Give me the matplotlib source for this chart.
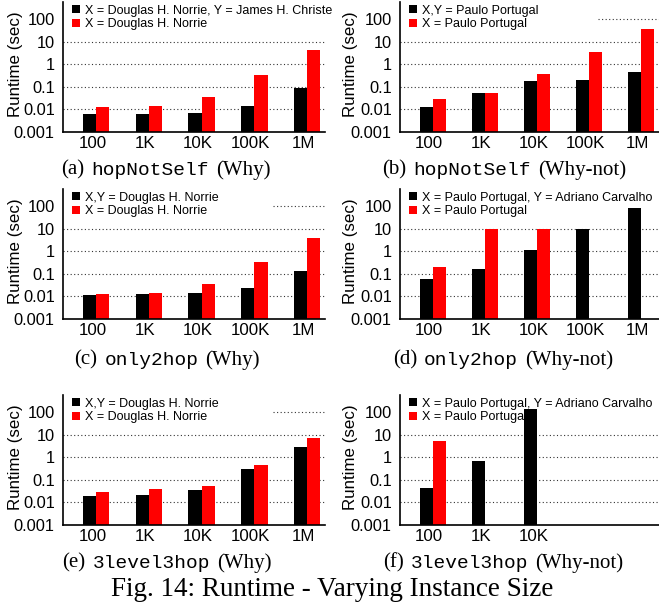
import numpy as np
import matplotlib
matplotlib.use("Agg")
import matplotlib.pyplot as plt
from matplotlib.patches import Patch
from matplotlib.offsetbox import TextArea, HPacker, AnnotationBbox

sizes = ["100", "1K", "10K", "100K", "1M"]
sizes_f = ["100", "1K", "10K"]

# (a) hopNotSelf (Why)
a_black = [0.0063, 0.0063, 0.0069, 0.014, 0.091]
a_red = [0.0132, 0.0141, 0.036, 0.33, 4.2]
# (b) hopNotSelf (Why-not)
b_black = [0.0132, 0.055, 0.186, 0.20, 0.465]
b_red = [0.029, 0.055, 0.37, 3.46, 36.0]
# (c) only2hop (Why)
c_black = [0.0115, 0.0127, 0.014, 0.023, 0.13]
c_red = [0.0127, 0.014, 0.035, 0.34, 3.7]
# (d) only2hop (Why-not)
d_black = [0.058, 0.16, 1.1, 9.5, 79.0]
d_red = [0.196, 9.7, 9.5, np.nan, np.nan]
# (e) 3level3hop (Why)
e_black = [0.019, 0.021, 0.035, 0.295, 2.75]
e_red = [0.029, 0.039, 0.053, 0.44, 6.9]
# (f) 3level3hop (Why-not)
f_black = [0.043, 0.66, 130.0]
f_red = [5.1, np.nan, np.nan]

leg_norrie_pair = "X = Douglas H. Norrie, Y = James H. Christe"
leg_norrie_xy = "X,Y = Douglas H. Norrie"
leg_norrie = "X = Douglas H. Norrie"
leg_paulo_xy = "X,Y = Paulo Portugal"
leg_paulo_pair = "X = Paulo Portugal, Y = Adriano Carvalho"
leg_paulo = "X = Paulo Portugal"

yticks = [0.001, 0.01, 0.1, 1, 10, 100]
ytick_labels = ["0.001", "0.01", "0.1", "1", "10", "100"]

W, H = 659, 609
SANS = "Liberation Sans"
SERIF = "Liberation Serif"
MONO = "Liberation Mono"

fig = plt.figure(figsize=(W / 100, H / 100), dpi=100)

# tag, query, mode, categories, series, legend labels,
# axes x0 / bottom / width (px), caption centre (px), start of the 100 gridline
panels = [
    ("(a)", "hopNotSelf", "(Why)", sizes, a_black, a_red, leg_norrie_pair, leg_norrie, 63, 132, 262, 166, 170, None),
    ("(b)", "hopNotSelf", "(Why-not)", sizes, b_black, b_red, leg_paulo_xy, leg_paulo, 400, 132, 259, 504, 170, 0.765),
    ("(c)", "only2hop", "(Why)", sizes, c_black, c_red, leg_norrie_xy, leg_norrie, 63, 319, 262, 167, 360, 0.80),
    ("(d)", "only2hop", "(Why-not)", sizes, d_black, d_red, leg_paulo_pair, leg_paulo, 400, 319, 259, 503, 360, None),
    ("(e)", "3level3hop", "(Why)", sizes, e_black, e_red, leg_norrie_xy, leg_norrie, 63, 525, 262, 167, 563, 0.80),
    ("(f)", "3level3hop", "(Why-not)", sizes_f, f_black, f_red, leg_paulo_pair, leg_paulo, 400, 525, 259, 503, 563, None),
]

ax_h = 130
for (tag, query, mode, cats, black, red, lab_b, lab_r,
     x0, bot, w, cap_x, cap_y, grid100) in panels:
    ax = fig.add_axes([x0 / W, 1 - bot / H, w / W, ax_h / H])
    x = np.arange(len(cats))
    ax.bar(x - 0.125, black, width=0.25, color="black", zorder=2)
    ax.bar(x + 0.125, red, width=0.25, color="#ff0000", zorder=2)
    ax.set_yscale("log")
    ax.set_ylim(0.001, 560)
    ax.set_xlim(-0.63, 4.34)
    ax.set_yticks(yticks)
    ax.set_yticklabels(ytick_labels)
    ax.minorticks_off()
    ax.set_xticks(x - 0.07)
    ax.set_xticklabels(cats)
    ax.tick_params(axis="y", length=0, pad=6, labelsize=11.8)
    ax.tick_params(axis="x", length=0, pad=3, labelsize=12.2)
    for lbl in ax.get_xticklabels() + ax.get_yticklabels():
        lbl.set_fontfamily(SANS)

    # dotted grid, drawn behind the bars
    for v in [0.01, 0.1, 1, 10]:
        ax.axhline(v, color="#333333", lw=0.8, ls=(0, (1, 2.2)), zorder=0)
    if grid100 is not None:
        ax.axhline(100, xmin=grid100, color="#333333", lw=0.8, ls=(0, (1, 2.2)), zorder=0)

    for s in ["top", "right"]:
        ax.spines[s].set_visible(False)
    for s in ["left", "bottom"]:
        ax.spines[s].set_linewidth(1.2)

    ax.set_ylabel("Runtime (sec)", fontsize=12.2, fontfamily=SANS)
    ax.yaxis.set_label_coords(-(40 if x0 < 200 else 42) / w, 0.52)

    handles = [Patch(facecolor="black"), Patch(facecolor="#ff0000")]
    ax.legend(handles, [lab_b, lab_r], loc="upper left",
              bbox_to_anchor=(8 / w, 0.99), frameon=False,
              prop={"family": SANS, "size": 9}, handlelength=0.6,
              handleheight=0.6, handletextpad=0.45, labelspacing=0.12,
              borderpad=0.1, borderaxespad=0)

    parts = [TextArea(tag, textprops=dict(family=SERIF, size=15)),
             TextArea(query, textprops=dict(family=MONO, size=14)),
             TextArea(mode, textprops=dict(family=SERIF, size=15))]
    box = HPacker(children=parts, align="baseline", pad=0, sep=5)
    ab = AnnotationBbox(box, (cap_x / W, 1 - cap_y / H), xycoords="figure fraction",
                        frameon=False, box_alignment=(0.5, 0.5), pad=0)
    fig.add_artist(ab)

fig.text(332 / W, 1 - 590 / H, "Fig. 14: Runtime - Varying Instance Size",
         ha="center", va="center", fontfamily=SERIF, fontsize=19.5)

fig.savefig("out.png", dpi=100)
